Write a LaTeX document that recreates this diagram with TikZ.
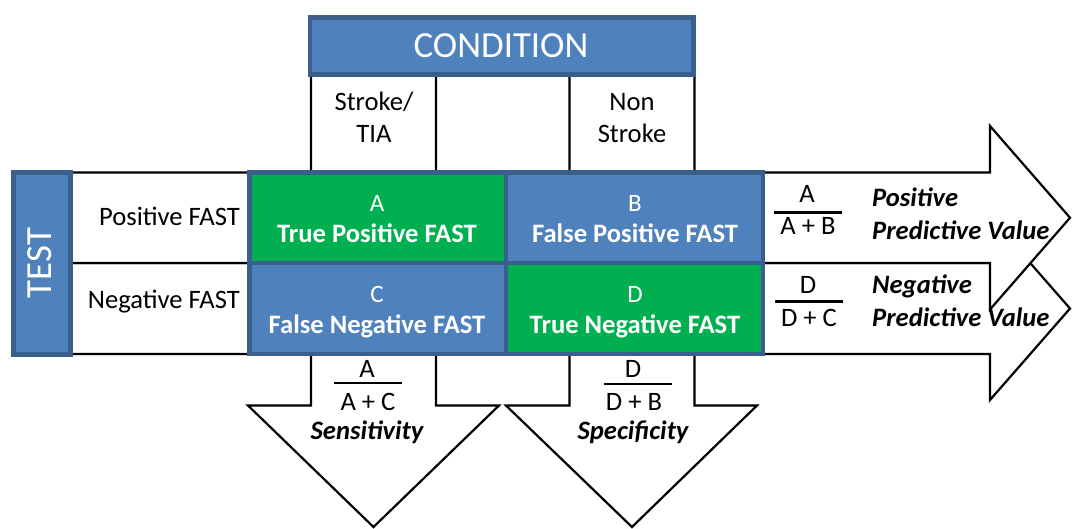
\documentclass[tikz,border=0pt]{standalone}
\usepackage{fontspec}
\setmainfont{Carlito}
\definecolor{cblue}{HTML}{4F81BD}
\definecolor{cborder}{HTML}{3A5F8C}
\definecolor{cgreen}{HTML}{00B050}
\begin{document}
\begin{tikzpicture}[x=1pt,y=-1pt,
  arrowshape/.style={draw=black, fill=white, line width=2.2pt, line join=miter},
  cellframe/.style={draw=cborder, line width=4.5pt},
  bluecell/.style={cellframe, fill=cblue},
  greencell/.style={cellframe, fill=cgreen},
  txt/.style={inner sep=0pt, font=\fontsize{26.6}{31}\selectfont},
  basetxt/.style={txt, anchor=base},
  lettertxt/.style={inner sep=0pt, anchor=base, text=white, font=\fontsize{25}{29}\selectfont},
  celltxt/.style={inner sep=0pt, anchor=base, text=white, font=\fontsize{26.6}{31}\selectfont\bfseries},
  bitxt/.style={inner sep=0pt, anchor=base west, font=\fontsize{26.6}{31}\selectfont\bfseries\itshape},
  bicenter/.style={inner sep=0pt, anchor=base, font=\fontsize{26.6}{31}\selectfont\bfseries\itshape},
  bigtxt/.style={inner sep=0pt, text=white, font=\fontsize{36.8}{43}\selectfont},
  fracline/.style={line width=2.4pt}
]
\useasboundingbox (0,0) rectangle (1072,529);

% right arrows (lower first, upper on top)
\draw[arrowshape] (60,263) -- (990,263) -- (990,217) -- (1070,308.5) -- (990,400) -- (990,354) -- (60,354) -- cycle;
\draw[arrowshape] (60,172.5) -- (990,172.5) -- (990,126) -- (1070,217.75) -- (990,309.5) -- (990,263) -- (60,263) -- cycle;

% down arrows
\draw[arrowshape] (311,60) -- (311,405.5) -- (248,405.5) -- (373.5,527) -- (499,405.5) -- (436,405.5) -- (436,60) -- cycle;
\draw[arrowshape] (569.5,60) -- (569.5,405.5) -- (506,405.5) -- (632,527) -- (757,405.5) -- (694.5,405.5) -- (694.5,60) -- cycle;

% grid cells
\draw[greencell] (249.5,172.5) rectangle (506,263);
\draw[bluecell] (506,172.5) rectangle (763,263);
\draw[bluecell] (249.5,263) rectangle (506,354);
\draw[greencell] (506,263) rectangle (763,354);

% header boxes
\draw[bluecell] (310,17.5) rectangle (693.5,74.5);
\draw[bluecell] (13.5,172.5) rectangle (70.5,354.5);

\node[bigtxt, anchor=base] (cond) at (501,58) {CONDITION};
\node[bigtxt, rotate=90] (test) at (40,263) {TEST};

% column headers
\node[basetxt] (st1) at (374,111) {Stroke/};
\node[basetxt] (st2) at (374,143) {TIA};
\node[basetxt] (ns1) at (632,111) {Non};
\node[basetxt] (ns2) at (632,143) {Stroke};

% row headers
\node[txt, anchor=base east] (posf) at (240,225.5) {Positive FAST};
\node[txt, anchor=base east] (negf) at (240,308.5) {Negative FAST};

% cells
\node[lettertxt] (la) at (377,211.7) {A};
\node[celltxt] (ta) at (377,243) {True Positive FAST};
\node[lettertxt] (lb) at (635,211.7) {B};
\node[celltxt] (tb) at (635,243) {False Positive FAST};
\node[lettertxt] (lc) at (377,302.7) {C};
\node[celltxt] (tc) at (377,334) {False Negative FAST};
\node[lettertxt] (ld) at (635,302.7) {D};
\node[celltxt] (td) at (635,334) {True Negative FAST};

% PPV
\node[basetxt] (ppvn) at (807,203) {A};
\draw[fracline] (774,212.7) -- (842,212.7);
\node[basetxt] (ppvd) at (808,235) {A + B};
\node[bitxt] (ppv1) at (872,207) {Positive};
\node[bitxt] (ppv2) at (872,240) {Predictive Value};

% NPV
\node[basetxt] (npvn) at (808,294) {D};
\draw[fracline] (775,301.5) -- (843,301.5);
\node[basetxt] (npvd) at (809,326.5) {D + C};
\node[bitxt] (npv1) at (872,294) {Negative};
\node[bitxt] (npv2) at (872,327) {Predictive Value};

% Sensitivity
\node[basetxt] (senn) at (367,378) {A};
\draw[fracline] (334,383.3) -- (402,383.3);
\node[basetxt] (send) at (368,411) {A + C};
\node[bicenter] (sen) at (367,440) {Sensitivity};

% Specificity
\node[basetxt] (spen) at (633,378) {D};
\draw[fracline] (604,384) -- (672,384);
\node[basetxt] (sped) at (634,411) {D + B};
\node[bicenter] (spe) at (633,440) {Specificity};
\end{tikzpicture}
\end{document}
